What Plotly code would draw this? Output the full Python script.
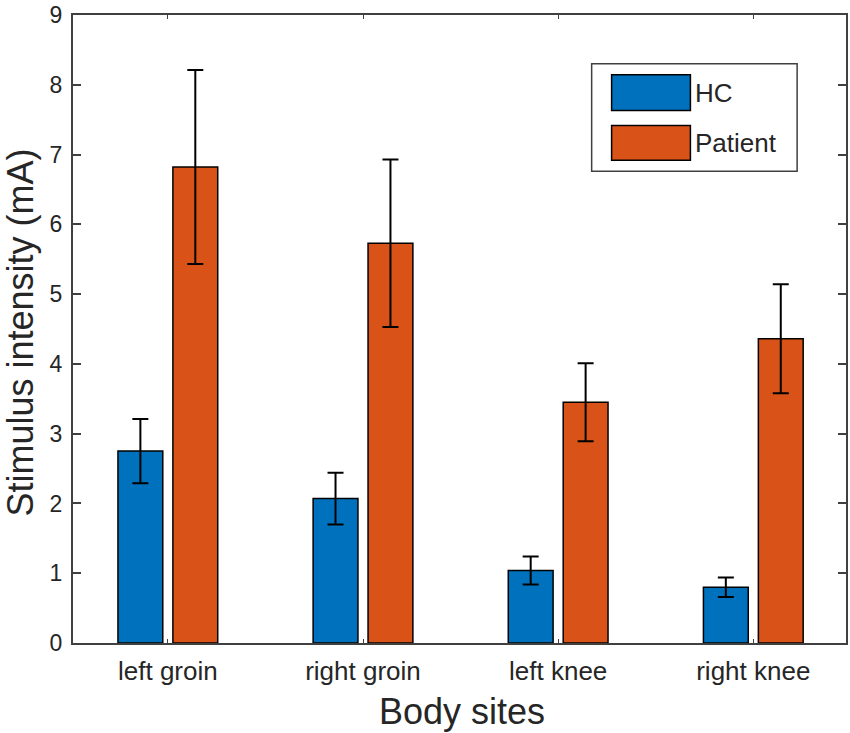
import plotly.graph_objects as go

# Body sites and mean stimulus intensity (mA) with error bar half-widths
sites = ["left groin", "right groin", "left knee", "right knee"]
site_pos = [1, 2, 3, 4]
hc_mean = [2.75, 2.07, 1.04, 0.80]
hc_err = [0.46, 0.37, 0.20, 0.14]
patient_mean = [6.82, 5.73, 3.45, 4.36]
patient_err = [1.39, 1.20, 0.56, 0.78]
group_names = ["HC", "Patient"]
y_ticks = [0, 1, 2, 3, 4, 5, 6, 7, 8, 9]

BLUE = "#0072BD"
ORANGE = "#D95319"
AXIS = "#404040"
TEXT = "#262626"
FONT = "Liberation Sans, Arial, Helvetica, sans-serif"

W, H = 850, 733
ML, MR, MT, MB = 73, 2, 12, 90


def px(x, y):
    """Convert page pixel position to paper coordinates."""
    pw = W - ML - MR
    ph = H - MT - MB
    return (x - ML) / pw, (H - MB - y) / ph


fig = go.Figure()
for name, mean, err, color in [
    (group_names[0], hc_mean, hc_err, BLUE),
    (group_names[1], patient_mean, patient_err, ORANGE),
]:
    fig.add_trace(go.Bar(
        x=site_pos, y=mean, name=name,
        marker=dict(color=color, line=dict(color="black", width=1.5)),
        error_y=dict(type="data", array=err, visible=True,
                     color="black", thickness=2, width=8),
        showlegend=False,
    ))

# Legend box drawn with shapes so the swatches are large
shapes = []
x0, y0 = px(593, 61)
x1, y1 = px(799, 169)
shapes.append(dict(type="rect", xref="paper", yref="paper", x0=x0, y0=y1, x1=x1, y1=y0,
                   line=dict(color=AXIS, width=1.5), fillcolor="white", layer="above"))
annotations = []
for (top, bot, color, label) in [(72, 108, BLUE, group_names[0]), (123, 158, ORANGE, group_names[1])]:
    a0, b0 = px(613, top)
    a1, b1 = px(692, bot)
    shapes.append(dict(type="rect", xref="paper", yref="paper", x0=a0, y0=b1, x1=a1, y1=b0,
                       line=dict(color="black", width=1.5), fillcolor=color, layer="above"))
    tx, ty = px(695, (top + bot) / 2)
    annotations.append(dict(xref="paper", yref="paper", x=tx, y=ty, text=label,
                            showarrow=False, xanchor="left", yanchor="middle",
                            font=dict(family=FONT, size=26, color=TEXT)))

# Axis titles placed as annotations for exact positioning
ax, ay = px(463, 712)
annotations.append(dict(xref="paper", yref="paper", x=ax, y=ay, text="Body sites",
                        showarrow=False, xanchor="center", yanchor="middle",
                        font=dict(family=FONT, size=36, color=TEXT)))
bx, by = px(20, 331)
annotations.append(dict(xref="paper", yref="paper", x=bx, y=by, text="Stimulus intensity (mA)",
                        showarrow=False, xanchor="center", yanchor="middle", textangle=-90,
                        font=dict(family=FONT, size=36, color=TEXT)))

fig.update_layout(
    width=W, height=H,
    margin=dict(l=ML, r=MR, t=MT, b=MB),
    paper_bgcolor="white", plot_bgcolor="white",
    barmode="group", bargap=0.437, bargroupgap=0.184,
    font=dict(family=FONT, color=TEXT),
    shapes=shapes, annotations=annotations,
    xaxis=dict(
        range=[0.514, 4.475], tickvals=site_pos, ticktext=sites,
        showline=True, linecolor=AXIS, linewidth=2, mirror="ticks",
        ticks="inside", ticklen=4, tickcolor=AXIS, tickwidth=1,
        showgrid=False, zeroline=False, ticklabelstandoff=4,
        tickfont=dict(family=FONT, size=26, color=TEXT),
    ),
    yaxis=dict(
        range=[0, 9], tickvals=y_ticks,
        showline=True, linecolor=AXIS, linewidth=2, mirror="ticks",
        ticks="inside", ticklen=8, tickcolor=AXIS, tickwidth=1.5,
        showgrid=False, zeroline=False, ticklabelstandoff=4,
        ticklabeloverflow="allow",
        tickfont=dict(family=FONT, size=23, color=TEXT),
    ),
)

fig.write_html("out.html")
